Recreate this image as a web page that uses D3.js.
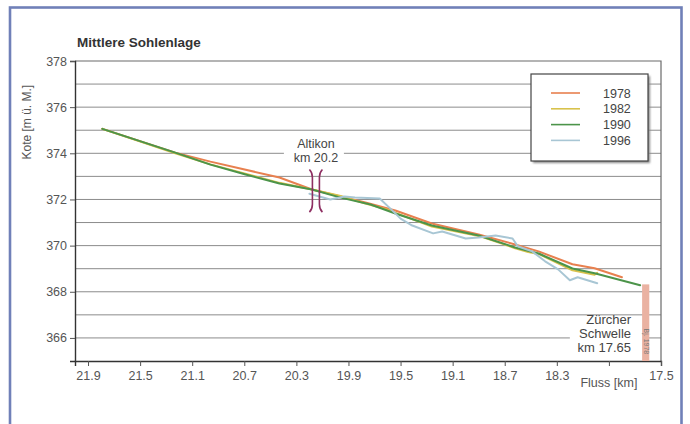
<!DOCTYPE html>
<html><head><meta charset="utf-8">
<script src="https://cdn.jsdelivr.net/npm/d3@7"></script>
<style>html,body{margin:0;padding:0;background:#fff;}svg{display:block;font-family:"Liberation Sans",Arial,sans-serif;}</style>
</head><body>
<svg id="c" width="690" height="424"></svg>
<script>
// ---- data ----
const years = ["1978", "1982", "1990", "1996"];
const km1978 = [21.79, 21.23, 20.96, 20.43, 20.18, 19.96, 19.77, 19.54, 19.26, 18.90, 18.62, 18.44, 18.18, 18.01, 17.80];
const kote1978 = [375.06, 374.03, 373.64, 372.95, 372.43, 372.13, 371.87, 371.52, 370.96, 370.48, 370.05, 369.75, 369.19, 369.02, 368.63];
const km1982 = [21.79, 21.23, 20.96, 20.43, 20.18, 19.96, 19.77, 19.60, 19.54, 19.26, 18.90, 18.70, 18.62, 18.52, 18.44, 18.18, 18.01, 17.99];
const kote1982 = [375.06, 374.00, 373.52, 372.72, 372.43, 372.15, 371.82, 371.56, 371.42, 370.83, 370.42, 370.05, 369.88, 369.72, 369.64, 368.93, 368.74, 368.82];
const km1990 = [21.79, 21.23, 20.96, 20.69, 20.43, 20.18, 19.96, 19.73, 19.54, 19.26, 18.90, 18.62, 18.44, 18.18, 18.01, 17.66];
const kote1990 = [375.06, 374.03, 373.51, 373.08, 372.69, 372.43, 372.08, 371.78, 371.39, 370.87, 370.44, 369.92, 369.66, 369.01, 368.80, 368.28];
const km1996 = [20.20, 20.04, 19.93, 19.85, 19.66, 19.57, 19.50, 19.41, 19.25, 19.18, 19.00, 18.90, 18.77, 18.64, 18.60, 18.49, 18.39, 18.29, 18.20, 18.14, 17.99];
const kote1996 = [372.25, 372.00, 372.13, 372.08, 372.04, 371.56, 371.17, 370.87, 370.53, 370.61, 370.31, 370.35, 370.44, 370.31, 369.97, 369.75, 369.32, 368.97, 368.50, 368.63, 368.37];
const xTicks = [21.9, 21.5, 21.1, 20.7, 20.3, 19.9, 19.5, 19.1, 18.7, 18.3, 17.9, 17.5];
const xTickLabels = ["21.9", "21.5", "21.1", "20.7", "20.3", "19.9", "19.5", "19.1", "18.7", "18.3", "", "17.5"];
const yTicks = [366, 368, 370, 372, 374, 376, 378];
const yGrid = [366, 367, 368, 369, 370, 371, 372, 373, 374, 375, 376, 377];
const title = "Mittlere Sohlenlage";
const yLabel = "Kote [m ü. M.]";
const xLabel = "Fluss [km]";
const bridgeKm = 20.15, bridgeTop = 373.3, bridgeBottom = 371.45;
const bridgeLabel = ["Altikon", "km 20.2"];
const weirKm = 17.645, weirKmEnd = 17.59, weirTop = 368.32;
const weirLabel = ["Zürcher", "Schwelle", "km 17.65"];
const weirNote = "Bj. 1978";

// ---- layout ----
const svg = d3.select("#c");
const M = {l: 75, r: 661, t: 61, b: 361};
const x = d3.scaleLinear().domain([22, 17.5]).range([M.l, M.r]);
const y = d3.scaleLinear().domain([365, 378]).range([M.b, M.t]);
const colors = {"1978": "#e8804f", "1982": "#d8c24c", "1990": "#4c944a", "1996": "#a8c6d4"};
const seriesData = [
  {year: "1978", km: km1978, v: kote1978},
  {year: "1982", km: km1982, v: kote1982},
  {year: "1990", km: km1990, v: kote1990},
  {year: "1996", km: km1996, v: kote1996}
];

// frame
svg.append("rect").attr("x", 10).attr("y", 7.5).attr("width", 671.5).attr("height", 430)
  .attr("fill", "none").attr("stroke", "#7080b8").attr("stroke-width", 2.6);

// title
svg.append("text").attr("x", 77).attr("y", 46.5).attr("font-size", 13.5).attr("font-weight", "bold")
  .attr("fill", "#333").text(title);

// gridlines
svg.append("g").selectAll("line").data(yGrid).join("line")
  .attr("x1", M.l).attr("x2", M.r).attr("y1", d => y(d)).attr("y2", d => y(d))
  .attr("stroke", "#8c8c8c").attr("stroke-width", 1);
// top & right border
svg.append("path").attr("d", `M${M.l},${y(378)}H${M.r}V${M.b}`).attr("fill", "none")
  .attr("stroke", "#6a6a6a").attr("stroke-width", 1.2);

// y axis
const yAxis = svg.append("g").attr("transform", `translate(${M.l},0)`)
  .call(d3.axisLeft(y).tickValues(yTicks).tickSize(5).tickPadding(3).tickFormat(d3.format("d")));
yAxis.select(".domain").attr("stroke", "#333").attr("stroke-width", 1.4);
yAxis.selectAll(".tick line").attr("stroke", "#555");
yAxis.selectAll("text").attr("font-size", 12.5).attr("fill", "#555").attr("font-family", "Liberation Sans, Arial, sans-serif");

// x axis
const xAxis = svg.append("g").attr("transform", `translate(0,${M.b})`)
  .call(d3.axisBottom(x).tickValues(xTicks).tickSize(5).tickPadding(5).tickFormat((d, i) => xTickLabels[i]));
xAxis.select(".domain").attr("stroke", "#333").attr("stroke-width", 1.4);
xAxis.selectAll(".tick line").attr("stroke", "#555");
xAxis.selectAll("text").attr("font-size", 12.5).attr("fill", "#555").attr("font-family", "Liberation Sans, Arial, sans-serif");

// axis labels
svg.append("text").attr("transform", `translate(31,${y(375.35)}) rotate(-90)`).attr("text-anchor", "middle")
  .attr("font-size", 12).attr("fill", "#555").text(yLabel);
svg.append("text").attr("x", x(17.9)).attr("y", 386.5).attr("text-anchor", "middle")
  .attr("font-size", 12.5).attr("fill", "#555").text(xLabel);

// white boxes behind annotations
svg.append("rect").attr("x", x(bridgeKm) - 32).attr("y", y(374.85)).attr("width", 60)
  .attr("height", y(373.7) - y(374.85)).attr("fill", "#fff");
svg.append("rect").attr("x", x(18.2)).attr("y", y(366.9)).attr("width", x(17.6) - x(18.2))
  .attr("height", y(365.1) - y(366.9)).attr("fill", "#fff");

// series lines
const line = d3.line().x(d => x(d[0])).y(d => y(d[1]));
svg.append("g").selectAll("path").data(seriesData).join("path")
  .attr("d", s => line(s.km.map((k, i) => [k, s.v[i]])))
  .attr("fill", "none").attr("stroke", s => colors[s.year]).attr("stroke-width", 2)
  .attr("stroke-linejoin", "round").attr("stroke-linecap", "round");

// bridge symbol )(
const bx = x(bridgeKm), bt = y(bridgeTop), bb = y(bridgeBottom);
[-1, 1].forEach(side => {
  const cx = bx + side * 3.5, hook = side * 3;
  svg.append("path")
    .attr("d", `M${cx + hook},${bt} Q${cx},${bt + 3} ${cx},${bt + 8} L${cx},${bb - 8} Q${cx},${bb - 3} ${cx + hook},${bb}`)
    .attr("fill", "none").attr("stroke", "#8e2f62").attr("stroke-width", 1.6);
});
// bridge label
svg.append("g").selectAll("text").data(bridgeLabel).join("text")
  .attr("x", bx).attr("y", (d, i) => y(374.22) + i * 14).attr("text-anchor", "middle")
  .attr("font-size", 12.5).attr("fill", "#444").text(d => d);

// weir bar
svg.append("rect").attr("x", x(weirKm)).attr("y", y(weirTop)).attr("width", x(weirKmEnd) - x(weirKm))
  .attr("height", y(365) - y(weirTop)).attr("fill", "#eab2a2");
svg.append("text").attr("transform", `translate(${x((weirKm + weirKmEnd) / 2) - 2},${y(365.85)}) rotate(90)`)
  .attr("text-anchor", "middle").attr("font-size", 7).attr("fill", "#777").text(weirNote);
// weir label
svg.append("g").selectAll("text").data(weirLabel).join("text")
  .attr("x", x(17.73)).attr("y", (d, i) => y(366.6) + i * 13.8).attr("text-anchor", "end")
  .attr("font-size", 13).attr("fill", "#444").text(d => d);

// legend
const lg = svg.append("g");
const defs = svg.append("defs");
defs.append("filter").attr("id", "sh").append("feGaussianBlur").attr("stdDeviation", 1.2);
lg.append("rect").attr("x", 533).attr("y", 76).attr("width", 117).attr("height", 87)
  .attr("fill", "#888").attr("filter", "url(#sh)");
lg.append("rect").attr("x", 531).attr("y", 74).attr("width", 117).attr("height", 87)
  .attr("fill", "#fff").attr("stroke", "#444").attr("stroke-width", 1.2);
const items = lg.selectAll("g.it").data(years).join("g").attr("class", "it")
  .attr("transform", (d, i) => `translate(0,${93 + i * 15.8})`);
items.append("line").attr("x1", 551).attr("x2", 580).attr("stroke", d => colors[d]).attr("stroke-width", 1.6);
items.append("text").attr("x", 603).attr("y", 4.5).attr("font-size", 12.5).attr("fill", "#444").text(d => d);
</script>
</body></html>
